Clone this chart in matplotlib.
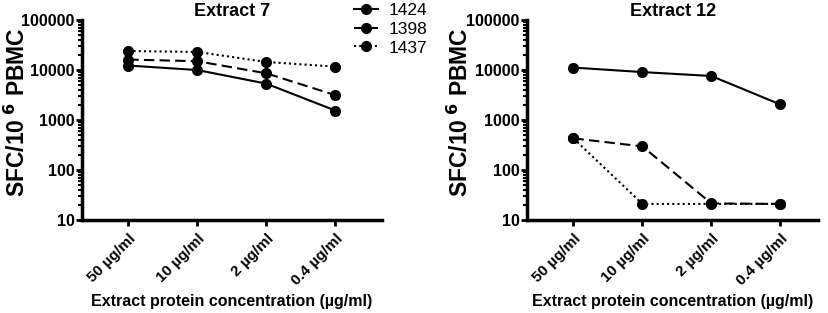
import matplotlib
matplotlib.use("Agg")
import matplotlib.pyplot as plt
from matplotlib.ticker import LogLocator, FixedLocator, NullFormatter

plt.rcParams["font.family"] = ["Liberation Sans", "DejaVu Sans"]

concentrations = ["50 µg/ml", "10 µg/ml", "2 µg/ml", "0.4 µg/ml"]
donors = ["1424", "1398", "1437"]
styles = ["-", (0, (5, 2.5)), (0, (1, 1.5))]

extract7 = {
    "1424": [12300, 10000, 5350, 1550],
    "1398": [16200, 15000, 8600, 3150],
    "1437": [24000, 23000, 14500, 11700],
}
extract12 = {
    "1424": [11200, 9100, 7600, 2050],
    "1398": [430, 297, 21.5, 21],
    "1437": [430, 21, 21, 21],
}


def draw_panel(ax, data, title, xmax, label_x):
    x = list(range(len(concentrations)))
    for donor, ls in zip(donors, styles):
        ax.plot(x, data[donor], color="black", linestyle=ls, linewidth=1.5,
                marker="o", markersize=7, label=donor)
    ax.set_yscale("log")
    ax.set_ylim(10, 100000)
    ax.set_xlim(-0.67, xmax)
    ax.yaxis.set_major_locator(FixedLocator([10, 100, 1000, 10000, 100000]))
    ax.set_yticklabels(["10", "100", "1000", "10000", "100000"])
    ax.yaxis.set_minor_locator(LogLocator(base=10, subs=range(2, 10)))
    ax.yaxis.set_minor_formatter(NullFormatter())
    ax.set_xticks(x)
    ax.set_xticklabels(concentrations, rotation=45, ha="right",
                       rotation_mode="anchor", fontweight="bold", fontsize=11)
    for lab in ax.get_yticklabels():
        lab.set_fontweight("bold")
        lab.set_fontsize(11.5)
    ax.tick_params(axis="both", which="major", width=2, length=4.5, direction="out")
    ax.tick_params(axis="y", which="minor", width=1.5, length=3)
    ax.tick_params(axis="x", pad=4)
    ax.tick_params(axis="y", pad=1)
    for side in ["top", "right"]:
        ax.spines[side].set_visible(False)
    for side in ["left", "bottom"]:
        ax.spines[side].set_linewidth(2.5)
    ax.set_title(title, fontsize=13, fontweight="bold", pad=3)
    ax.set_ylabel("SFC/10$^{\\ \\mathbf{6}}$ PBMC", fontsize=16.5, fontweight="bold")
    ax.yaxis.set_label_coords(label_x, 0.54)
    ax.set_xlabel("Extract protein concentration (µg/ml)", fontsize=11.5,
                  fontweight="bold", labelpad=4)


fig = plt.figure(figsize=(8.29, 3.13), dpi=100)
ax1 = fig.add_axes([0.099, 0.297, 0.362, 0.639])
ax2 = fig.add_axes([0.636, 0.297, 0.351, 0.639])

draw_panel(ax1, extract7, "Extract 7", 3.68, -0.173)
draw_panel(ax2, extract12, "Extract 12", 3.55, -0.186)

handles, labels = ax1.get_legend_handles_labels()
fig.legend(handles, labels, loc="upper left", bbox_to_anchor=(0.408, 1.04),
           frameon=False, fontsize=12.5, handlelength=1.4, handletextpad=0.6,
           labelspacing=0.2)

fig.savefig("out.png", dpi=100)
